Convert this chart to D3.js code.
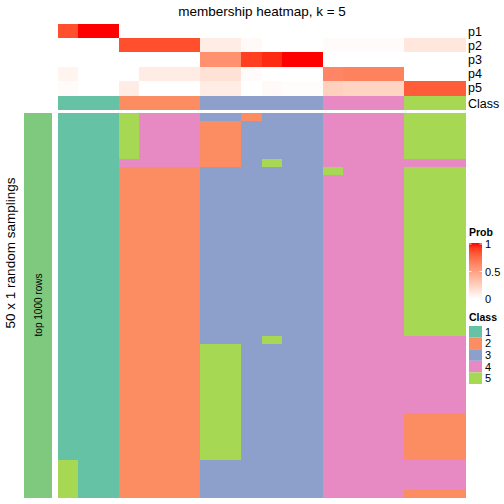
<!DOCTYPE html>
<html><head><meta charset="utf-8">
<script src="https://cdn.jsdelivr.net/npm/d3@7"></script>
<style>body{margin:0;background:#fff}svg{display:block}text{font-family:"Liberation Sans",Arial,sans-serif}</style>
</head><body><svg id="c" width="504" height="504"></svg>
<script>
// ---------- data ----------
const title = "membership heatmap, k = 5";
const probNames = ["p1","p2","p3","p4","p5"];
const p1 = [0.85,1,1,0,0,0,0,0,0,0,0,0,0,0,0,0,0,0,0,0];
const p2 = [0,0,0,0.85,0.85,0.85,0.85,0.10,0.10,0.03,0,0,0,0.02,0.02,0.02,0.02,0.13,0.13,0.13];
const p3 = [0,0,0,0,0,0,0,0.57,0.57,0.90,0.95,1,1,0,0,0,0,0,0,0];
const p4 = [0.06,0,0,0,0.10,0.10,0.10,0.16,0.16,0.02,0,0,0,0.62,0.64,0.64,0.64,0,0,0];
const p5 = [0.02,0,0,0.10,0,0,0,0.10,0.10,0,0.03,0.01,0.01,0.25,0.23,0.23,0.23,0.80,0.80,0.80];
const classRow = [1,1,1,2,2,2,2,3,3,3,3,3,3,4,4,4,4,5,5,5];
const classLevels = [1,2,3,4,5];
const classColors = ["#66C2A5","#FC8D62","#8DA0CB","#E78AC3","#A6D854"];
const probTicks = [0,0.5,1];
// 50 random samplings x 20 samples: predicted class
const samplingRows = [
 "11154443323334444555",
 "11154442233334444555","11154442233334444555","11154442233334444555","11154442233334444555","11154442233334444555",
 "11144442235334444444",
 "11122223333335444555",
 "11122223333334444555","11122223333334444555","11122223333334444555","11122223333334444555","11122223333334444555",
 "11122223333334444555","11122223333334444555","11122223333334444555","11122223333334444555","11122223333334444555",
 "11122223333334444555","11122223333334444555","11122223333334444555","11122223333334444555","11122223333334444555",
 "11122223333334444555","11122223333334444555","11122223333334444555","11122223333334444555","11122223333334444555",
 "11122223333334444555",
 "11122223335334444444",
 "11122225533334444444","11122225533334444444","11122225533334444444","11122225533334444444","11122225533334444444",
 "11122225533334444444","11122225533334444444","11122225533334444444","11122225533334444444",
 "11122225533334444222","11122225533334444222","11122225533334444222","11122225533334444222","11122225533334444222","11122225533334444222",
 "51122223333334444444","51122223333334444444","51122223333334444444","51122223333334444444",
 "51122223333334444222"
];
const leftLabel = "top 1000 rows";
const rowTitle = "50 x 1 random samplings";

// ---------- drawing ----------
const svg = d3.select("#c");
const nCol = classRow.length;
const cols = d3.range(nCol);
const x = d3.scaleBand().domain(cols).range([58,465]);
const yTop = d3.scaleBand().domain(probNames).range([24,95]);
const yBody = d3.scaleBand().domain(d3.range(samplingRows.length)).range([113,498]);
const probColor = d3.scaleLinear().domain([0,1]).range(["#ffffff","#ff0000"]).interpolate(d3.interpolateLab);
const classColor = d3.scaleOrdinal().domain(classLevels).range(classColors);

svg.append("text").attr("x",262).attr("y",16).attr("text-anchor","middle")
  .attr("font-size",13.5).attr("fill","#000").text(title);

// top probability annotation
const probs = [p1,p2,p3,p4,p5];
probNames.forEach((nm,i)=>{
  svg.append("g").attr("shape-rendering","crispEdges").selectAll("rect").data(probs[i]).join("rect")
    .attr("x",(d,j)=>x(j)).attr("y",yTop(nm))
    .attr("width",x.bandwidth()+0.6).attr("height",yTop.bandwidth()+0.6)
    .attr("fill",d=>probColor(d));
  svg.append("text").attr("x",468).attr("y",yTop(nm)+yTop.bandwidth()/2+4.5)
    .attr("font-size",12.5).text(nm);
});
// class annotation
svg.append("g").attr("shape-rendering","crispEdges").selectAll("rect").data(classRow).join("rect")
  .attr("x",(d,j)=>x(j)).attr("y",96).attr("width",x.bandwidth()+0.6).attr("height",14)
  .attr("fill",d=>classColor(d));
svg.append("text").attr("x",468).attr("y",107.5).attr("font-size",12.5).text("Class");

// body
samplingRows.forEach((r,i)=>{
  svg.append("g").attr("shape-rendering","crispEdges").selectAll("rect").data(r.split("").map(Number)).join("rect")
    .attr("x",(d,j)=>x(j)).attr("y",yBody(i))
    .attr("width",x.bandwidth()+0.6).attr("height",i===samplingRows.length-1?yBody.bandwidth():yBody.bandwidth()+0.8)
    .attr("fill",d=>classColor(d));
});

// left annotation
svg.append("rect").attr("x",24).attr("y",113).attr("width",28).attr("height",385).attr("fill","#7FC97F");
svg.append("text").attr("transform","translate(41.5,305) rotate(-90)").attr("text-anchor","middle")
  .attr("font-size",10).text(leftLabel);
svg.append("text").attr("transform","translate(14.5,253) rotate(-90)").attr("text-anchor","middle")
  .attr("font-size",13.5).text(rowTitle);

// Prob legend
const lg = svg.append("g");
lg.append("text").attr("x",469).attr("y",236).attr("font-size",10.5).attr("font-weight","bold").text("Prob");
const ly = d3.scaleLinear().domain([0,1]).range([299,244]);
const defs = svg.append("defs");
const grad = defs.append("linearGradient").attr("id","pg").attr("x1",0).attr("y1",1).attr("x2",0).attr("y2",0);
d3.range(0,1.001,0.1).forEach(t=>grad.append("stop").attr("offset",t).attr("stop-color",probColor(t)));
lg.append("rect").attr("x",469).attr("y",ly(1)-1).attr("width",13).attr("height",ly(0)-ly(1)+1).attr("fill","url(#pg)");
probTicks.forEach(t=>{
  lg.append("line").attr("x1",469).attr("x2",471.5).attr("y1",ly(t)).attr("y2",ly(t)).attr("stroke","#fff").attr("stroke-width",0.8);
  lg.append("line").attr("x1",479.5).attr("x2",482).attr("y1",ly(t)).attr("y2",ly(t)).attr("stroke","#fff").attr("stroke-width",0.8);
  lg.append("text").attr("x",485).attr("y",ly(t)+4).attr("font-size",11).text(d3.format("~g")(t));
});

// Class legend
lg.append("text").attr("x",469).attr("y",321).attr("font-size",10.5).attr("font-weight","bold").text("Class");
const cy = d3.scaleBand().domain(classLevels).range([326,384]);
classLevels.forEach(c=>{
  lg.append("rect").attr("x",469).attr("y",cy(c)).attr("width",13).attr("height",cy.bandwidth()).attr("fill",classColor(c));
  lg.append("text").attr("x",485).attr("y",cy(c)+cy.bandwidth()/2+4).attr("font-size",11).text(c);
});
</script></body></html>
